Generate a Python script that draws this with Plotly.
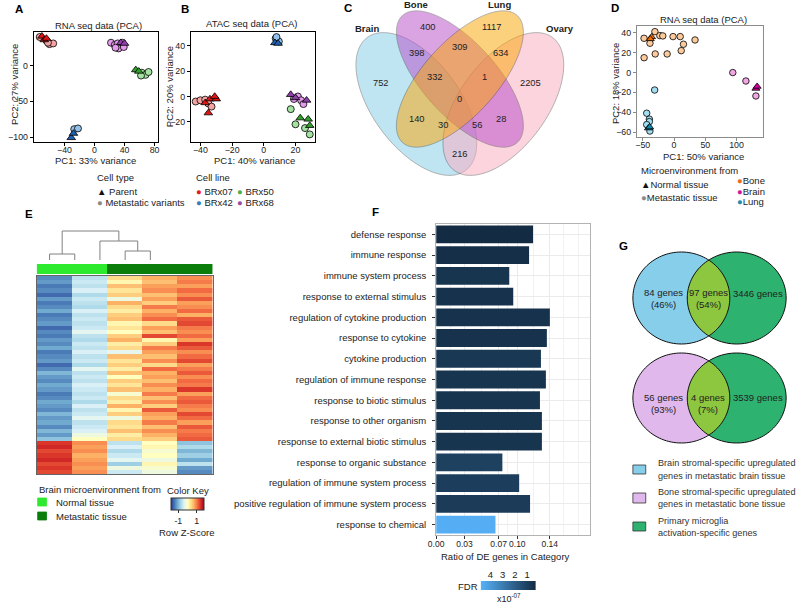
import numpy as np
import plotly.graph_objects as go

W, H = 800, 604
FONT = "Liberation Sans, Arial, sans-serif"
INK = "#222222"

# ---------------- A: RNA-seq PCA ----------------
RNA_PAR_X = [-70, -67, -64, -31, -28, 55, 59, 35, 40]
RNA_PAR_Y = [41, 36, 38, -101, -95, -6, -8, 32, 31]
RNA_PAR_LINE = ["BRx07", "BRx07", "BRx07", "BRx42", "BRx42", "BRx50", "BRx50", "BRx68", "BRx68"]
RNA_MET_X = [-73, -64, -60, -55, -62, -27, -22, 63, 68, 72, 62, 22, 27, 31, 37, 32, 39, 28]
RNA_MET_Y = [40, 35, 30, 31, 32, -89, -88, -10, -13, -9, -14, 32, 29, 31, 32, 24, 26, 25]
RNA_MET_LINE = ["BRx07", "BRx07", "BRx07", "BRx07", "BRx07", "BRx42", "BRx42",
                "BRx50", "BRx50", "BRx50", "BRx50",
                "BRx68", "BRx68", "BRx68", "BRx68", "BRx68", "BRx68", "BRx68"]

# ---------------- B: ATAC-seq PCA ----------------
ATAC_PAR_X = [-37, -34, -30, -35, -31, 7, 9, 23, 28, 29, 17, 20, 27]
ATAC_PAR_Y = [-5, -2, -2, -13, 0, 42.5, 42, -17, -18, -23, 1.5, -1, -3]
ATAC_PAR_LINE = ["BRx07", "BRx07", "BRx07", "BRx07", "BRx07", "BRx42", "BRx42",
                 "BRx50", "BRx50", "BRx50", "BRx68", "BRx68", "BRx68"]
ATAC_MET_X = [-43, -40, -37, -35, -33, 7.5, 9.5, 8, 17, 20, 29, 26, 19, 21.5, 23.5, 25]
ATAC_MET_Y = [-4, -3, -2.5, -5.5, -8, 46, 43.5, 47, -10, -22, -30, -25, -2, 0, -3, -6]
ATAC_MET_LINE = ["BRx07", "BRx07", "BRx07", "BRx07", "BRx07", "BRx42", "BRx42", "BRx42",
                 "BRx50", "BRx50", "BRx50", "BRx50", "BRx68", "BRx68", "BRx68", "BRx68"]

LINE_PARENT_COLOR = {"BRx07": "#E01414", "BRx42": "#1F5FAF", "BRx50": "#33A02C", "BRx68": "#8E3FA8"}
LINE_MET_COLOR = {"BRx07": "#F4A3A3", "BRx42": "#93BFE8", "BRx50": "#A3E2A0", "BRx68": "#E39BEB"}
LINE_KEY_COLOR = {"BRx07": "#E41A1C", "BRx42": "#377EB8", "BRx50": "#4DAF4A", "BRx68": "#984EA3"}

# ---------------- C: four-way Venn ----------------
VENN_SETS = ["Brain", "Bone", "Lung", "Ovary"]
VENN_COUNTS = [752, 400, 1117, 2205, 398, 309, 634, 332, 1, 0, 140, 30, 56, 28, 216]

# ---------------- D: microenvironment PCA ----------------
MICRO_PAR_X = [-36, -38, 131, 133, -41, -39]
MICRO_PAR_Y = [36, 34, -16, -14, -56, -55]
MICRO_PAR_SITE = ["Bone", "Bone", "Brain", "Brain", "Lung", "Lung"]
MICRO_MET_X = [-48, -30.6, -38.5, -22.7, -18, -1.6, 9.9, 15.1, 11.5, 33.6, -47.9, -30.1, -11,
               94, 115, 131, -31, -43.7, -39.5, -39.5, -43.7, -38.6]
MICRO_MET_Y = [34.6, 41.3, 29.6, 37.3, 37, 36.3, 36.3, 28.6, 22.1, 32.9, 15, 18.8, 18.8,
               0, -8.5, -23.6, -17.6, -41, -47, -49.5, -52.5, -59]
MICRO_MET_SITE = ["Bone"] * 13 + ["Brain"] * 3 + ["Lung"] * 6
SITE_PARENT_COLOR = {"Bone": "#F06A00", "Brain": "#D4009E", "Lung": "#0E8AAE"}
SITE_MET_COLOR = {"Bone": "#FBCB9D", "Brain": "#F2A6E4", "Lung": "#A3DFF0"}
SITE_KEY_COLOR = {"Bone": "#EE6A1C", "Brain": "#D0169F", "Lung": "#1D8DB0"}

# ---------------- E: heatmap ----------------
HEAT_GROUP = [0, 0, 1, 1, 1]  # 0 normal tissue, 1 metastatic tissue
HEAT_ROWS = [
    [-1.3, -0.6, 0.4, 0.7, 0.9], [-1.2, -0.5, 0.1, 0.6, 1.0], [-1.4, -0.6, 0.6, 0.8, 0.8],
    [-1.3, -0.4, 0.3, 0.9, 1.1], [-1.5, -0.7, 0.5, 0.6, 0.9], [-1.2, -0.5, -0.2, 0.8, 1.2],
    [-1.4, -0.6, 0.7, 0.5, 0.8], [-1.3, -0.7, 0.4, 1.0, 0.9], [-1.1, -0.4, 0.2, 0.7, 1.1],
    [-1.4, -0.6, 0.5, 0.9, 0.7], [-1.3, -0.5, 0.6, 1.1, 1.2], [-1.2, -0.6, 0.1, 0.4, 1.3],
    [-1.5, -0.5, 0.3, 0.8, 1.0], [-1.3, -0.3, 0.0, 0.6, 0.9], [-1.4, -0.6, 0.5, 1.3, 1.1],
    [-1.2, -0.7, 0.7, 0.1, 0.8], [-1.3, -0.5, 0.2, 0.5, 1.4], [-1.1, -0.6, 0.4, 1.0, 1.2],
    [-1.4, -0.4, -0.3, 0.8, 0.9], [-1.3, -0.6, 0.6, 0.6, 1.1], [-1.2, -0.5, 0.3, 0.9, 1.3],
    [-1.5, -0.7, 0.5, 0.4, 0.8], [-1.3, -0.3, 0.2, 1.1, 1.0], [-1.0, -0.6, 0.6, 0.7, 1.2],
    [-1.2, -0.5, 0.0, 0.8, 0.9], [-1.3, -0.6, 0.5, 0.6, 1.1], [-1.1, -0.4, 0.3, 0.9, 1.0],
    [-1.2, -0.5, 0.6, 0.7, 1.4], [-1.4, -0.6, -0.1, 1.0, 0.8], [-1.3, -0.5, 0.4, 0.6, 1.1],
    [-1.1, -0.7, 0.2, 0.9, 1.2], [-1.2, -0.4, 0.7, 0.5, 1.0], [-1.3, -0.6, 0.1, 1.2, 0.9],
    [-1.0, -0.5, 0.5, 0.8, 1.3], [-1.2, -0.3, -0.2, 0.7, 1.1], [-1.1, -0.6, 0.4, 1.0, 0.8],
    [-1.3, -0.5, 0.3, 0.6, 1.2], [-1.0, -0.4, 0.6, 0.9, 1.0], [-1.2, -0.2, 0.2, 0.7, 1.1],
    [-0.9, 0.0, 0.4, 0.5, 1.2],
    [1.4, 0.9, -0.6, 0.0, -0.9], [1.5, 0.8, -0.4, 0.1, -0.7], [1.3, 0.9, -0.7, -0.1, -1.0],
    [1.4, 0.7, -0.5, 0.0, -0.8], [1.5, 0.8, -0.3, -0.2, -1.1], [1.3, 0.9, -0.8, 0.1, -0.6],
    [1.4, 0.8, -0.2, -0.1, -1.2], [1.3, 0.9, -0.5, -0.2, -1.3],
]
DEND_LEAF_POS = [1, 2, 3, 4, 5]
DEND_MERGES = [(0, 1, 6), (3, 4, 9), (2, 6, 19), (5, 7, 29)]  # (child, child, height)
RDYLBU_R = ["#313695", "#4575B4", "#74ADD1", "#ABD9E9", "#E0F3F8", "#FFFFBF",
            "#FEE090", "#FDAE61", "#F46D43", "#D73027", "#A50026"]

# ---------------- F: GO enrichment ----------------
GO_TERMS = ["defense response", "immune response", "immune system process",
            "response to external stimulus", "regulation of cytokine production",
            "response to cytokine", "cytokine production", "regulation of immune response",
            "response to biotic stimulus", "response to other organism",
            "response to external biotic stimulus", "response to organic substance",
            "regulation of immune system process",
            "positive regulation of immune system process", "response to chemical"]
GO_RATIO = [0.1194, 0.1145, 0.0901, 0.0950, 0.1401, 0.1364, 0.1291, 0.1352,
            0.1279, 0.1303, 0.1303, 0.0816, 0.1023, 0.1157, 0.0731]
GO_FDR = [0.3, 0.4, 0.6, 0.5, 0.5, 0.5, 0.7, 0.6, 0.6, 0.6, 0.6, 1.0, 0.9, 0.8, 4.7]  # x1e-7
F_TICKS = [0, 0.035, 0.077, 0.10, 0.14]
F_TICK_TEXT = ["0.00", "0.03", "0.07", "0.10", "0.14"]
F_MINOR = [0.0175, 0.056, 0.0885, 0.12, 0.1575, 0.175]
FDR_KEY_STOPS = [0.27, 1, 2, 3, 4, 4.8]
FDR_SCALE = [[0, "#132B43"], [1, "#56B1F7"]]

# ---------------- G: two-way Venns ----------------
BRAIN_VENN = [84, 97, 3446]
BRAIN_PCT = [46, 54]
BONE_VENN = [56, 4, 3539]
BONE_PCT = [93, 7]


def px(x):
    return x / W


def py(y):
    return 1 - y / H


def path_of(xs, ys):
    pts = [f"{px(a):.5f},{py(b):.5f}" for a, b in zip(xs, ys)]
    return "M " + " L ".join(pts) + " Z"


def ellipse_xy(cx, cy, a, b, theta=0.0, t=None):
    if t is None:
        t = np.linspace(0, 2 * np.pi, 120, endpoint=False)
    th = np.radians(theta)
    xs = cx + a * np.cos(t) * np.cos(th) - b * np.sin(t) * np.sin(th)
    ys = cy + a * np.cos(t) * np.sin(th) + b * np.sin(t) * np.cos(th)
    return xs, ys


def lens_path(left, right):
    lx, ly = ellipse_xy(*left, t=np.linspace(-np.pi, np.pi, 720))
    rx, ry = ellipse_xy(*right, t=np.linspace(0, 2 * np.pi, 720))
    in_r = ((lx - right[0]) / right[2]) ** 2 + ((ly - right[1]) / right[3]) ** 2 <= 1
    in_l = ((rx - left[0]) / left[2]) ** 2 + ((ry - left[1]) / left[3]) ** 2 <= 1
    xs = list(lx[in_r]) + list(rx[in_l])
    ys = list(ly[in_r]) + list(ry[in_l])
    return path_of(xs, ys)


def note(text, x, y, size=9.5, anchor="center", color=INK, angle=0):
    return dict(text=text, x=px(x), y=py(y), xref="paper", yref="paper", showarrow=False,
                xanchor=anchor, yanchor="middle", textangle=angle,
                font=dict(size=size, color=color, family=FONT))


def pca_trace(xs, ys, groups, colors, symbol, size, ax):
    return go.Scatter(
        x=xs, y=ys, mode="markers", xaxis="x" + ax, yaxis="y" + ax, hoverinfo="skip",
        marker=dict(symbol=symbol, size=size, color=[colors[g] for g in groups],
                    line=dict(color="black", width=0.8)),
    )


def frame_axis(x0, x1, rng, ticks, anchor, color="black", standoff=0):
    return dict(domain=[x0, x1], range=rng, tickvals=ticks, anchor=anchor, showline=True,
                mirror=True, linecolor=color, linewidth=1, ticks="outside", ticklen=3,
                tickcolor=color, showgrid=False, zeroline=False, tickangle=0,
                ticklabelstandoff=standoff, tickfont=dict(size=8.8, color=INK))


def dendrogram_xy(leaf_pos, merges):
    pos = {i: p for i, p in enumerate(leaf_pos)}
    hgt = {i: 0 for i in range(len(leaf_pos))}
    xs, ys = [], []
    for k, (a, b, h) in enumerate(merges):
        xs += [pos[a], pos[a], pos[b], pos[b], None]
        ys += [hgt[a], h, h, hgt[b], None]
        nid = len(leaf_pos) + k
        pos[nid] = (pos[a] + pos[b]) / 2
        hgt[nid] = h
    return xs, ys


fig = go.Figure()

# A
fig.add_trace(pca_trace(RNA_MET_X, RNA_MET_Y, RNA_MET_LINE, LINE_MET_COLOR, "circle", 7, ""))
fig.add_trace(pca_trace(RNA_PAR_X, RNA_PAR_Y, RNA_PAR_LINE, LINE_PARENT_COLOR, "triangle-up", 7.5, ""))
# B
fig.add_trace(pca_trace(ATAC_MET_X, ATAC_MET_Y, ATAC_MET_LINE, LINE_MET_COLOR, "circle", 7, "2"))
fig.add_trace(pca_trace(ATAC_PAR_X, ATAC_PAR_Y, ATAC_PAR_LINE, LINE_PARENT_COLOR, "triangle-up", 7.5, "2"))
# D
fig.add_trace(pca_trace(MICRO_MET_X, MICRO_MET_Y, MICRO_MET_SITE, SITE_MET_COLOR, "circle", 6.5, "3"))
fig.add_trace(pca_trace(MICRO_PAR_X, MICRO_PAR_Y, MICRO_PAR_SITE, SITE_PARENT_COLOR, "triangle-up", 7, "3"))

# E dendrogram, column side colours, heatmap
dx, dy = dendrogram_xy(DEND_LEAF_POS, DEND_MERGES)
fig.add_trace(go.Scatter(x=dx, y=dy, mode="lines", line=dict(color="#808080", width=1),
                         xaxis="x4", yaxis="y4", hoverinfo="skip"))
fig.add_trace(go.Heatmap(z=[HEAT_GROUP], x=[1, 2, 3, 4, 5], xaxis="x5", yaxis="y5",
                         colorscale=[[0, "#2EEA2E"], [1, "#0A7D0A"]], zmin=0, zmax=1,
                         showscale=False, hoverinfo="skip"))
n_rows = len(HEAT_ROWS)
scale = [[i / (len(RDYLBU_R) - 1), c] for i, c in enumerate(RDYLBU_R)]
fig.add_trace(go.Heatmap(
    z=HEAT_ROWS, x=[1, 2, 3, 4, 5], y=list(range(n_rows)), xaxis="x6", yaxis="y6",
    colorscale=scale, zmin=-1.8, zmax=1.8, hoverinfo="skip",
    colorbar=dict(orientation="h", x=px(181.5), xanchor="center", y=py(498), yanchor="top",
                  len=33, lenmode="pixels", thickness=12, thicknessmode="pixels",
                  xpad=0, ypad=0, outlinewidth=1, outlinecolor="#333",
                  tickvals=[-1, 1], ticktext=["-1", "1"], ticks="outside",
                  ticklen=3, tickcolor="#333", tickfont=dict(size=8.8, color=INK)),
))

# F bars and FDR key
fig.add_trace(go.Bar(x=GO_RATIO, y=GO_TERMS, orientation="h", width=0.86,
                     xaxis="x7", yaxis="y7", hoverinfo="skip",
                     marker=dict(color=GO_FDR, colorscale=FDR_SCALE, cmin=0.27, cmax=4.8,
                                 showscale=False, line=dict(width=0))))
fig.add_trace(go.Heatmap(z=[FDR_KEY_STOPS, FDR_KEY_STOPS], x=FDR_KEY_STOPS, y=[0, 1],
                         xaxis="x8", yaxis="y8", colorscale=FDR_SCALE, zmin=0.27, zmax=4.8,
                         zsmooth="best", showscale=False, hoverinfo="skip"))

hidden = dict(visible=False, showgrid=False, zeroline=False)
layout_axes = dict(
    xaxis=frame_axis(px(26), px(152), [-81, 85], [-40, 0, 40, 80], "y", standoff=-4),
    yaxis=frame_axis(py(142), py(32), [-107, 47], [-100, -50, 0], "x"),
    xaxis2=frame_axis(px(185), px(310), [-46, 32], [-40, -20, 0, 20], "y2", standoff=-4),
    yaxis2=frame_axis(py(142), py(32), [-36, 51], [-20, 0, 20, 40], "x2"),
    xaxis3=frame_axis(px(636), px(764), [-59.5, 143], [-50, 0, 50, 100], "y3", "#8c8c8c",
                      standoff=-4),
    yaxis3=frame_axis(py(137), py(26), [-65, 47], [-60, -40, -20, 0, 20, 40], "x3", "#8c8c8c"),
    xaxis4=dict(domain=[px(40), px(146)], range=[0.92, 5.08], anchor="y4", **hidden),
    yaxis4=dict(domain=[py(261), py(226)], range=[-1, 34], anchor="x4", **hidden),
    xaxis5=dict(domain=[px(29), px(207)], range=[0.5, 5.5], anchor="y5", **hidden),
    yaxis5=dict(domain=[py(274), py(264)], range=[-0.5, 0.5], anchor="x5", **hidden),
    xaxis6=dict(domain=[px(29), px(207)], range=[0.5, 5.5], anchor="y6", showline=True,
                mirror=True, linecolor="#666", linewidth=1, showticklabels=False,
                ticks="", showgrid=False, zeroline=False),
    yaxis6=dict(domain=[py(474), py(276)], range=[n_rows - 0.5, -0.5], anchor="x6",
                showline=True, mirror=True, linecolor="#666", linewidth=1,
                showticklabels=False, ticks="", showgrid=False, zeroline=False),
    xaxis7=dict(domain=[px(433), px(589)], range=[0, 0.19], anchor="y7",
                tickvals=F_TICKS, ticktext=F_TICK_TEXT, tickangle=0, showgrid=True,
                gridcolor="#ebebeb", gridwidth=0.8,
                minor=dict(tickvals=F_MINOR, showgrid=True, gridcolor="#f2f2f2", gridwidth=0.6),
                showline=True, mirror=True, linecolor="#b3b3b3", linewidth=1,
                ticks="outside", ticklen=3, tickcolor="#333", zeroline=False,
                ticklabelstandoff=-2, tickfont=dict(size=8.5, color=INK)),
    yaxis7=dict(domain=[py(535), py(224)], type="category", categoryorder="array",
                categoryarray=GO_TERMS, range=[len(GO_TERMS) - 0.5, -0.5], anchor="x7",
                showgrid=True, gridcolor="#ebebeb", gridwidth=0.8, showline=True,
                mirror=True, linecolor="#b3b3b3", linewidth=1, ticks="outside",
                ticklen=3, tickcolor="#333", ticklabelstandoff=4,
                tickfont=dict(size=9.5, color=INK)),
    xaxis8=dict(domain=[px(478), px(534)], range=[4.8, 0.27], anchor="y8", side="top",
                tickvals=[4, 3, 2, 1], ticks="", showgrid=False, zeroline=False,
                showline=False, tickangle=0, tickfont=dict(size=9.5, color=INK)),
    yaxis8=dict(domain=[py(590), py(581)], range=[0, 1], anchor="x8", **hidden),
)

shapes = []
# C ellipses (pixel geometry of the drawn Venn)
venn_shapes = [
    ((413, 104, 83, 44, 53), "#83CDE7"),
    ((501, 104, 83, 44, -53), "#FBABBF"),
    ((457, 79, 86, 37, 47.5), "#B74BC9"),
    ((457, 79, 86, 37, -47.5), "#FBA500"),
]
for geom, col in venn_shapes:
    ex, ey = ellipse_xy(*geom)
    shapes.append(dict(type="path", path=path_of(ex, ey), xref="paper", yref="paper",
                       fillcolor=col, opacity=0.5, line=dict(color="#444", width=0.8)))

# G two-way Venns
g_venns = [
    ((681, 298, 49, 46), (737, 298, 50, 46), "#87CEEB"),
    ((681, 398, 49, 45), (737, 398, 50, 45), "#E0B8EC"),
]
for left, right, lcol in g_venns:
    for geom, col in ((left, lcol), (right, "#2DB36F")):
        ex, ey = ellipse_xy(*geom)
        shapes.append(dict(type="path", path=path_of(ex, ey), xref="paper", yref="paper",
                           fillcolor=col, line=dict(width=0)))
    shapes.append(dict(type="path", path=lens_path(left, right), xref="paper", yref="paper",
                       fillcolor="#8DC63F", line=dict(width=0)))
    for geom in (left, right):
        ex, ey = ellipse_xy(*geom)
        shapes.append(dict(type="path", path=path_of(ex, ey), xref="paper", yref="paper",
                           fillcolor="rgba(0,0,0,0)", line=dict(color="#111", width=1)))

# legend swatches
for x0, y0, x1, y1, col, edge in [
    (30, 498, 39, 506, "#2EEA2E", None), (30, 512, 39, 520, "#0A7D0A", None),
    (632, 465, 645, 474, "#87CEEB", "#333"), (632, 493, 645, 503, "#E0B8EC", "#333"),
    (632, 522, 645, 531, "#2DB36F", "#333"),
]:
    shapes.append(dict(type="rect", xref="paper", yref="paper", x0=px(x0), x1=px(x1),
                       y0=py(y1), y1=py(y0), fillcolor=col,
                       line=dict(color=edge or col, width=0.8)))

ann = []
for letter, x, y in [("A", 11, 9), ("B", 179, 9), ("C", 344, 8), ("D", 614, 8),
                     ("E", 21, 214), ("F", 372, 212), ("G", 623, 246)]:
    ann.append(note(f"<b>{letter}</b>", x, y, size=11.5, color="black"))

# A / B / D titles
ann += [
    note("RNA seq data (PCA)", 92, 25), note("PC1: 33% variance", 89, 160),
    note("PC2: 27% variance", 6, 84, angle=-90),
    note("ATAC seq data (PCA)", 247, 24), note("PC1: 40% variance", 249, 160),
    note("PC2: 20% variance", 163, 87, angle=-90),
    note("RNA seq data (PCA)", 703, 20), note("PC1: 50% variance", 703, 156),
    note("PC2: 18% variance", 614, 84, angle=-90),
]
# A/B legends
ann += [
    note("Cell type", 88, 177, anchor="left"),
    note("<span style='color:#111'>▲</span> Parent", 88, 191, anchor="left"),
    note("<span style='color:#8a8a8a'>●</span> Metastatic variants", 88, 202, anchor="left"),
    note("Cell line", 188, 177, anchor="left"),
]
for line_name, x, y in [("BRx07", 188, 191), ("BRx50", 230, 191),
                        ("BRx42", 188, 202), ("BRx68", 230, 202)]:
    ann.append(note(f"<span style='color:{LINE_KEY_COLOR[line_name]}'>●</span> {line_name}",
                    x, y, anchor="left"))
# D legend
ann += [
    note("Microenvironment from", 638, 171, anchor="left"),
    note("<span style='color:#111'>▲</span>Normal tissue", 638, 184, anchor="left"),
    note("<span style='color:#8a8a8a'>●</span>Metastatic tissue", 638, 197, anchor="left"),
]
for site, y in [("Bone", 181), ("Brain", 191), ("Lung", 201)]:
    ann.append(note(f"<span style='color:{SITE_KEY_COLOR[site]}'>●</span>{site}", 735, y,
                    anchor="left"))

# C labels
for name, x, y in zip(VENN_SETS, [363, 413, 497, 558], [28, 5, 5, 28]):
    ann.append(note(f"<b>{name}</b>", x, y))
venn_pos = [(377, 83), (425, 27), (489, 27), (528, 83), (414, 53), (457, 47), (499, 53),
            (432, 77), (482, 77), (457, 99), (414, 119), (440, 125), (474, 125),
            (499, 119), (457, 154)]
for count, (x, y) in zip(VENN_COUNTS, venn_pos):
    ann.append(note(str(count), x, y, size=9.3))

# E legend
ann += [
    note("Brain microenvironment from", 29, 489, anchor="left"),
    note("Normal tissue", 47, 502, anchor="left"),
    note("Metastatic tissue", 47, 516, anchor="left"),
    note("Color Key", 182, 490),
    note("Row Z-Score", 181, 532),
]

# F texts
ann += [
    note("Ratio of DE genes in Category", 503, 556),
    note("FDR", 465, 586),
    note("x10<sup>-07</sup>", 507, 598, size=9),
]

# G texts
for counts, pct, yc in [(BRAIN_VENN, BRAIN_PCT, 299), (BONE_VENN, BONE_PCT, 403)]:
    ann.append(note(f"{counts[0]} genes<br>({pct[0]}%)", 663, yc))
    ann.append(note(f"{counts[1]} genes<br>({pct[1]}%)", 708, yc))
    ann.append(note(f"{counts[2]} genes", 759, yc - 6))
for text, y in [("Brain stromal-specific upregulated", 463), ("genes in metastatic brain tissue", 476),
                ("Bone stromal-specific upregulated", 492), ("genes in metastatic bone tissue", 504),
                ("Primary microglia", 521), ("activation-specific genes", 533)]:
    ann.append(note(text, 655, y, size=9.1, anchor="left", color="#333"))

fig.update_layout(
    width=W, height=H, margin=dict(l=0, r=0, t=0, b=0),
    paper_bgcolor="white", plot_bgcolor="white", showlegend=False,
    font=dict(family=FONT, size=9.5, color=INK),
    shapes=shapes, annotations=ann, bargap=0.14,
    **layout_axes,
)

# the page's default body margin would offset the figure by 8px
fig.write_html("out.html", config={"displayModeBar": False},
               post_script="document.body.style.margin='0px';")
